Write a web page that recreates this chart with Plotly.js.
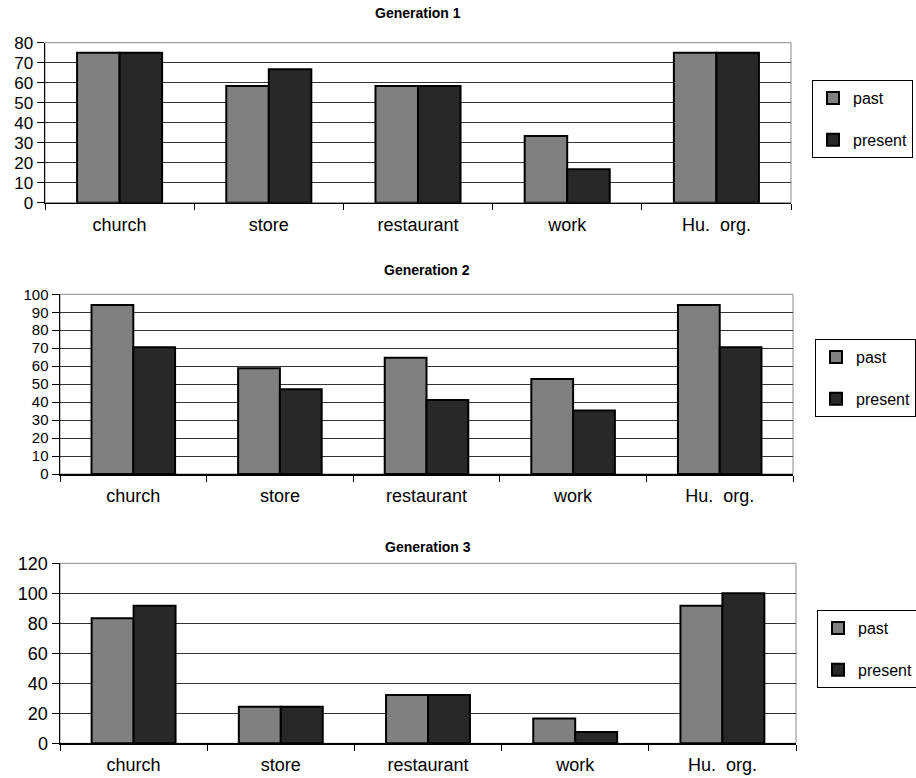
<!DOCTYPE html>
<html>
<head>
<meta charset="utf-8">
<script src="https://cdn.plot.ly/plotly-3.0.1.min.js"></script>
<style>
  html, body { margin: 0; padding: 0; background: #fff; }
  #chart { width: 916px; height: 778px; }
</style>
</head>
<body>
<div id="chart"></div>
<script>
// Places visited, share of respondents (%) per generation
const categories = ["church", "store", "restaurant", "work", "Hu.  org."];
const seriesNames = ["past", "present"];

const gen1Past    = [75, 58.3, 58.3, 33.3, 75];
const gen1Present = [75, 66.7, 58.3, 16.7, 75];

const gen2Past    = [94.1, 58.8, 64.7, 52.9, 94.1];
const gen2Present = [70.6, 47.1, 41.2, 35.3, 70.6];

const gen3Past    = [83.3, 24.4, 32.2, 16.5, 91.7];
const gen3Present = [91.7, 24.4, 32.2, 7.6, 100];

const panelTitles = ["Generation 1", "Generation 2", "Generation 3"];
const yMax = [80, 100, 120];
const yStep = [10, 10, 20];
const yFont = [17, 15, 18];

const W = 916, H = 778;
const FONT = "Liberation Sans, Arial, sans-serif";
const colors = { past: "#808080", present: "#282828" };

// pixel geometry of each panel: [left, right, top, bottom]
const panels = [
  [45, 791, 42.7, 202.7],
  [60, 793, 294.3, 474],
  [60, 796, 563.3, 743.3]
];
const legendPos = [[812, 80], [815, 339], [817, 610]];
const titleY = [13, 270, 547];

const data = [];
const layout = {
  width: W, height: H,
  margin: { l: 0, r: 0, t: 0, b: 0, autoexpand: false },
  paper_bgcolor: "#fff", plot_bgcolor: "#fff",
  font: { family: FONT, size: 18, color: "#000" },
  barmode: "group", bargap: 0.43, bargroupgap: 0,
  showlegend: true,
  annotations: [], shapes: []
};

const seriesSets = [[gen1Past, gen1Present], [gen2Past, gen2Present], [gen3Past, gen3Present]];

seriesSets.forEach((pair, i) => {
  const n = i + 1;
  const xa = n === 1 ? "x" : "x" + n;
  const ya = n === 1 ? "y" : "y" + n;
  const leg = n === 1 ? "legend" : "legend" + n;
  pair.forEach((vals, k) => {
    const name = seriesNames[k];
    data.push({
      type: "bar", x: categories, y: vals, name: name,
      xaxis: xa, yaxis: ya, legend: leg, legendgroup: "g" + n + name,
      marker: { color: colors[name], line: { color: "#000", width: 2 } },
      hoverinfo: "x+y+name"
    });
  });

  const [l, r, t, b] = panels[i];
  const xKey = n === 1 ? "xaxis" : "xaxis" + n;
  const yKey = n === 1 ? "yaxis" : "yaxis" + n;
  layout[xKey] = {
    domain: [l / W, r / W], anchor: ya, type: "category",
    tickson: "boundaries", ticks: "outside", ticklen: 6, tickwidth: 1, tickcolor: "#000",
    showline: true, linecolor: "#000", linewidth: 1.5,
    showgrid: false, zeroline: false, fixedrange: true,
    ticklabelstandoff: 5, tickfont: { size: 18 }
  };
  layout[yKey] = {
    domain: [1 - b / H, 1 - t / H], anchor: xa,
    range: [0, yMax[i]], dtick: yStep[i], tick0: 0,
    ticks: "outside", ticklen: 7, tickwidth: 1, tickcolor: "#000",
    showline: true, linecolor: "#000", linewidth: 1.5,
    showgrid: true, gridcolor: "#333", gridwidth: 1,
    zeroline: false, fixedrange: true, tickfont: { size: yFont[i] }
  };
  // light frame around the plot area
  layout.shapes.push({
    type: "rect", xref: xa + " domain", yref: ya + " domain",
    x0: 0, x1: 1, y0: 0, y1: 1, line: { color: "#888", width: 1 }, layer: "below"
  });
  layout.annotations.push({
    text: "<b>" + panelTitles[i] + "</b>", xref: "paper", yref: "paper",
    x: ((l + r) / 2) / W, y: 1 - titleY[i] / H, xanchor: "center", yanchor: "middle",
    showarrow: false, font: { size: 14, family: FONT }
  });
  layout[leg] = {
    x: legendPos[i][0] / W, y: 1 - legendPos[i][1] / H, xanchor: "left", yanchor: "top",
    bordercolor: "#000", borderwidth: 1, bgcolor: "#fff",
    font: { size: 16, family: FONT }, tracegroupgap: 18, itemwidth: 30
  };
});

Plotly.newPlot("chart", data, layout, { displayModeBar: false, staticPlot: true });
</script>
</body>
</html>
